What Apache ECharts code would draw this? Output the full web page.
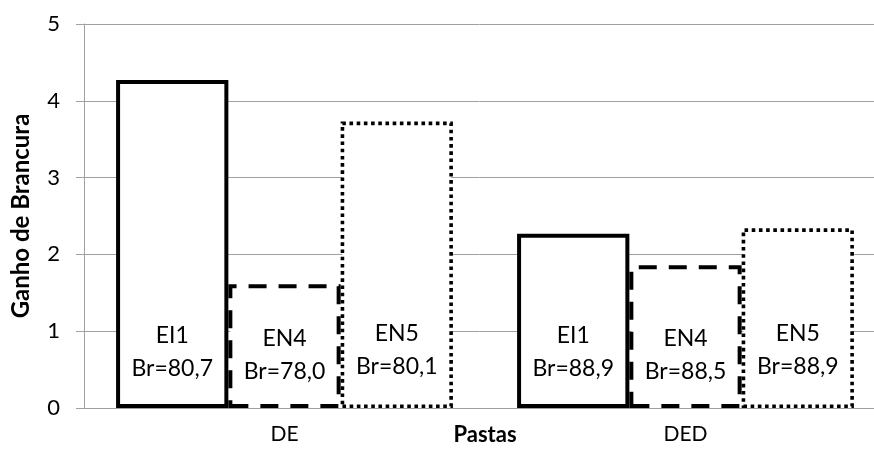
<!DOCTYPE html>
<html>
<head>
<meta charset="utf-8">
<script src="https://cdn.jsdelivr.net/npm/echarts@6/dist/echarts.min.js"></script>
<style>
  html, body { margin: 0; padding: 0; background: #fff; }
  #chart { width: 874px; height: 452px; }
</style>
</head>
<body>
<div id="chart"></div>
<script>
// Pulp groups on the category axis
const categories = ['DE', 'DED'];
// Bleaching sequences (one bar series each)
const seriesNames = ['EI1', 'EN4', 'EN5'];
// Brightness gain per sequence, in the order of categories
const gainEI1 = [4.27, 2.27];
const gainEN4 = [1.61, 1.86];
const gainEN5 = [3.73, 2.34];
// Final brightness written inside each bar
const brEI1 = ['80,7', '88,9'];
const brEN4 = ['78,0', '88,5'];
const brEN5 = ['80,1', '88,9'];
// Value axis ticks
const yTicks = [0, 1, 2, 3, 4, 5];

const gains = [gainEI1, gainEN4, gainEN5];
const brs = [brEI1, brEN4, brEN5];
const borderTypes = ['solid', [18, 12], 'dotted'];
const borderWidths = [4, 4, 3.6];
const labelDistances = [23, 20, 25];

const FONT = 'Lato';
const chart = echarts.init(document.getElementById('chart'), null, { renderer: 'canvas' });

const series = seriesNames.map((name, i) => ({
  name: name,
  type: 'bar',
  data: gains[i],
  barGap: '0%',
  barCategoryGap: '16%',
  itemStyle: {
    color: '#ffffff',
    borderColor: '#000000',
    borderWidth: borderWidths[i],
    borderType: borderTypes[i]
  },
  label: {
    show: true,
    position: 'insideBottom',
    distance: labelDistances[i],
    color: '#000',
    fontFamily: FONT,
    fontSize: 23,
    lineHeight: 33,
    align: 'center',
    formatter: p => name + '\n' + 'Br=' + brs[i][p.dataIndex]
  },
  emphasis: { disabled: true },
  animation: false
}));

chart.setOption({
  animation: false,
  grid: { left: 84, top: 24, width: 802, bottom: 44, containLabel: false, outerBoundsMode: 'none' },
  xAxis: {
    type: 'category',
    data: categories,
    name: 'Pastas',
    nameLocation: 'middle',
    nameGap: 16,
    nameMoveOverlap: false,
    nameTextStyle: { fontFamily: FONT, fontSize: 22, fontWeight: 'bold', color: '#000' },
    axisLine: { lineStyle: { color: '#a0a0a0', width: 1 } },
    axisTick: { show: false },
    axisLabel: { margin: 16, fontFamily: FONT, fontSize: 21, color: '#000' },
    splitLine: { show: false }
  },
  yAxis: {
    type: 'value',
    min: yTicks[0],
    max: yTicks[yTicks.length - 1],
    interval: 1,
    name: 'Ganho de Brancura',
    nameLocation: 'middle',
    nameGap: 51,
    nameMoveOverlap: false,
    nameTextStyle: { fontFamily: FONT, fontSize: 24, fontWeight: 'bold', color: '#000' },
    axisLine: { show: true, lineStyle: { color: '#a0a0a0', width: 1 } },
    axisTick: { show: true, length: 8, lineStyle: { color: '#a0a0a0' } },
    axisLabel: { margin: 24, fontFamily: FONT, fontSize: 22, color: '#000' },
    splitLine: { show: true, lineStyle: { color: '#a0a0a0', width: 1 } }
  },
  series: series
});
</script>
</body>
</html>
